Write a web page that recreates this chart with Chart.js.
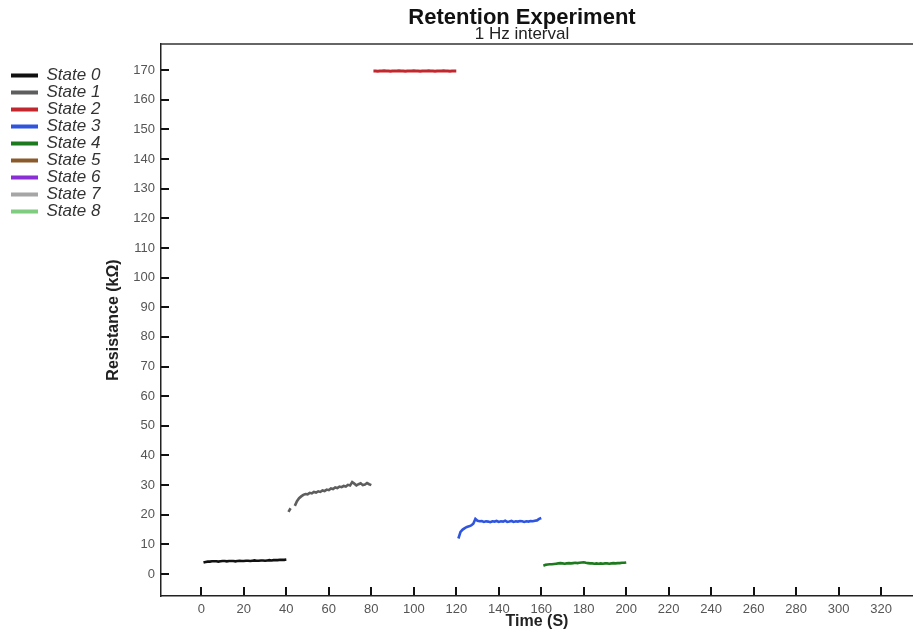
<!DOCTYPE html>
<html>
<head>
<meta charset="utf-8">
<title>Retention Experiment</title>
<script src="https://cdn.jsdelivr.net/npm/chart.js@4.4.1/dist/chart.umd.min.js"></script>
<style>
  html, body { margin: 0; padding: 0; background: #fff; }
  #wrap { width: 913px; height: 630px; }
</style>
</head>
<body>
<div id="wrap"><canvas id="retentionChart"></canvas></div>
<script>
// Chart data (1 Hz sampling, each state held for 40 s)
var stateNames = ['State 0', 'State 1', 'State 2', 'State 3', 'State 4', 'State 5', 'State 6', 'State 7', 'State 8'];
var stateColors = ['#111111', '#5e5e5e', '#c1272d', '#2f55df', '#1e7a1e', '#8b5a2b', '#8a2fd6', '#a6a6a6', '#80cc80'];
var stateStart = [1, 41, 81, 121, 161];

var state0 = [3.9, 4.1, 4.2, 4.2, 4.3, 4.3, 4.3, 4.2, 4.3, 4.4, 4.4, 4.3, 4.4, 4.4, 4.4, 4.3, 4.4, 4.5, 4.4, 4.4,
              4.5, 4.5, 4.4, 4.5, 4.6, 4.5, 4.5, 4.6, 4.6, 4.5, 4.6, 4.7, 4.6, 4.7, 4.7, 4.7, 4.8, 4.8, 4.8, 4.9];
var state1 = [21.0, 22.2, null, 23.0, 24.6, 25.6, 26.2, 26.7, 27.0, 26.9, 27.4, 27.2, 27.7, 27.5, 27.9, 27.7, 28.2, 28.0, 28.5, 28.3,
              28.9, 28.7, 29.2, 29.0, 29.5, 29.3, 29.7, 29.5, 30.1, 29.9, 31.0, 30.5, 29.9, 30.3, 30.6, 30.0, 30.2, 30.7, 30.3, 30.0];
var state2 = [169.7, 169.7, 169.6, 169.7, 169.7, 169.8, 169.7, 169.7, 169.6, 169.7, 169.7, 169.7, 169.8, 169.7, 169.7, 169.6, 169.7, 169.7, 169.7, 169.8,
              169.7, 169.7, 169.6, 169.7, 169.7, 169.7, 169.8, 169.7, 169.7, 169.6, 169.7, 169.7, 169.7, 169.8, 169.7, 169.7, 169.6, 169.7, 169.7, 169.7];
var state3 = [12.0, 14.2, 15.0, 15.5, 15.9, 16.1, 16.4, 17.0, 18.6, 18.0, 17.8, 17.9, 17.6, 17.8, 17.7, 17.5, 17.8, 17.7, 17.9, 17.6,
              17.8, 17.7, 18.0, 17.6, 17.7, 17.9, 17.6, 17.8, 17.7, 17.9, 17.8, 17.6, 17.8, 17.7, 17.9, 17.8, 18.0, 18.1, 18.6, 18.9];
var state4 = [2.8, 3.1, 3.2, 3.3, 3.3, 3.4, 3.5, 3.6, 3.7, 3.6, 3.5, 3.6, 3.7, 3.6, 3.7, 3.8, 3.7, 3.8, 3.9, 4.0,
              3.8, 3.7, 3.6, 3.6, 3.5, 3.6, 3.5, 3.6, 3.5, 3.6, 3.6, 3.5, 3.6, 3.7, 3.6, 3.7, 3.7, 3.8, 3.8, 3.9];
var stateValues = [state0, state1, state2, state3, state4, [], [], [], []];

var xTickValues = [0, 20, 40, 60, 80, 100, 120, 140, 160, 180, 200, 220, 240, 260, 280, 300, 320];
var yTickValues = [0, 10, 20, 30, 40, 50, 60, 70, 80, 90, 100, 110, 120, 130, 140, 150, 160, 170];

var titleText = 'Retention Experiment';
var subtitleText = '1 Hz interval';

// build the point lists for each state
function toPoints(values, start) {
    return values.map(function (v, i) { return { x: start + i, y: v }; });
}

var datasets = stateNames.map(function (name, i) {
    return {
        label: name,
        data: stateValues[i].length ? toPoints(stateValues[i], stateStart[i]) : [],
        borderColor: stateColors[i],
        backgroundColor: stateColors[i],
        borderWidth: i === 2 ? 3 : 2.6,
        pointRadius: 0,
        tension: 0,
        spanGaps: false
    };
});

// top frame line, inward tick marks and the header text
var frameAndTicks = {
    id: 'frameAndTicks',
    afterDraw: function (chart) {
        var ctx = chart.ctx;
        var area = chart.chartArea;
        var xs = chart.scales.x;
        var ys = chart.scales.y;
        ctx.save();
        ctx.strokeStyle = '#333';
        ctx.lineWidth = 1.5;
        ctx.beginPath();
        ctx.moveTo(area.left, area.top);
        ctx.lineTo(area.right, area.top);
        ctx.stroke();

        ctx.strokeStyle = '#111';
        ctx.lineWidth = 2;
        xs.ticks.forEach(function (t) {
            var px = Math.round(xs.getPixelForValue(t.value));
            ctx.beginPath();
            ctx.moveTo(px, area.bottom - 1);
            ctx.lineTo(px, area.bottom - 9);
            ctx.stroke();
        });
        ys.ticks.forEach(function (t) {
            var py = Math.round(ys.getPixelForValue(t.value));
            ctx.beginPath();
            ctx.moveTo(area.left, py);
            ctx.lineTo(area.left + 8, py);
            ctx.stroke();
        });

        // header sits a little left of the plot centre, as in the original
        var cx = (area.left + area.right) / 2 - 15;
        ctx.textAlign = 'center';
        ctx.textBaseline = 'middle';
        ctx.fillStyle = '#111';
        ctx.font = 'bold 22px "Liberation Sans", Arial, sans-serif';
        ctx.fillText(titleText, cx, 18);
        ctx.fillStyle = '#222';
        ctx.font = '17px "Liberation Sans", Arial, sans-serif';
        ctx.fillText(subtitleText, cx, 34);
        ctx.restore();
    }
};

document.addEventListener('DOMContentLoaded', function () {
    Chart.defaults.font.family = '"Liberation Sans", Arial, sans-serif';

    var ctx = document.getElementById('retentionChart').getContext('2d');
    var retentionChart = new Chart(ctx, {
        type: 'line',
        data: { datasets: datasets },
        plugins: [frameAndTicks],
        options: {
            responsive: true,
            maintainAspectRatio: false,
            animation: false,
            layout: { padding: { top: 44, left: 11, right: 0, bottom: 0 } },
            plugins: {
                tooltip: { enabled: false },
                legend: {
                    position: 'left',
                    align: 'start',
                    title: { display: true, text: '', font: { size: 10, lineHeight: 1 }, padding: { top: 13, bottom: 0 } },
                    labels: {
                        boxWidth: 27,
                        boxHeight: 4,
                        padding: 0,
                        color: '#333',
                        font: { size: 17, style: 'italic' },
                        generateLabels: function (chart) {
                            var items = Chart.defaults.plugins.legend.labels.generateLabels(chart);
                            items.forEach(function (it) {
                                it.fillStyle = it.strokeStyle;
                                it.lineWidth = 0;
                            });
                            return items;
                        }
                    }
                }
            },
            scales: {
                x: {
                    type: 'linear',
                    min: -19,
                    max: 335,
                    afterBuildTicks: function (s) { s.ticks = xTickValues.map(function (v) { return { value: v }; }); },
                    afterFit: function (s) { s.height = 34; },
                    grid: { display: false, drawTicks: false },
                    border: { display: true, color: '#222', width: 1.5 },
                    ticks: { color: '#555', font: { size: 13 }, padding: 6, maxRotation: 0 },
                    title: { display: true, text: 'Time (S)', color: '#222', font: { size: 16, weight: 'bold' }, padding: { top: 0, bottom: -1 } }
                },
                y: {
                    type: 'linear',
                    min: -7.4,
                    max: 178.8,
                    afterBuildTicks: function (s) { s.ticks = yTickValues.map(function (v) { return { value: v }; }); },
                    afterFit: function (s) { s.width = 161 - 11 - s.chart.legend.width; },
                    grid: { display: false, drawTicks: false },
                    border: { display: true, color: '#222', width: 1.5 },
                    ticks: { color: '#555', font: { size: 13 }, padding: 6 },
                    title: { display: true, text: 'Resistance (kΩ)', color: '#222', font: { size: 16, weight: 'bold' }, padding: { top: -6, bottom: 0 } }
                }
            }
        }
    });
});
</script>
</body>
</html>
